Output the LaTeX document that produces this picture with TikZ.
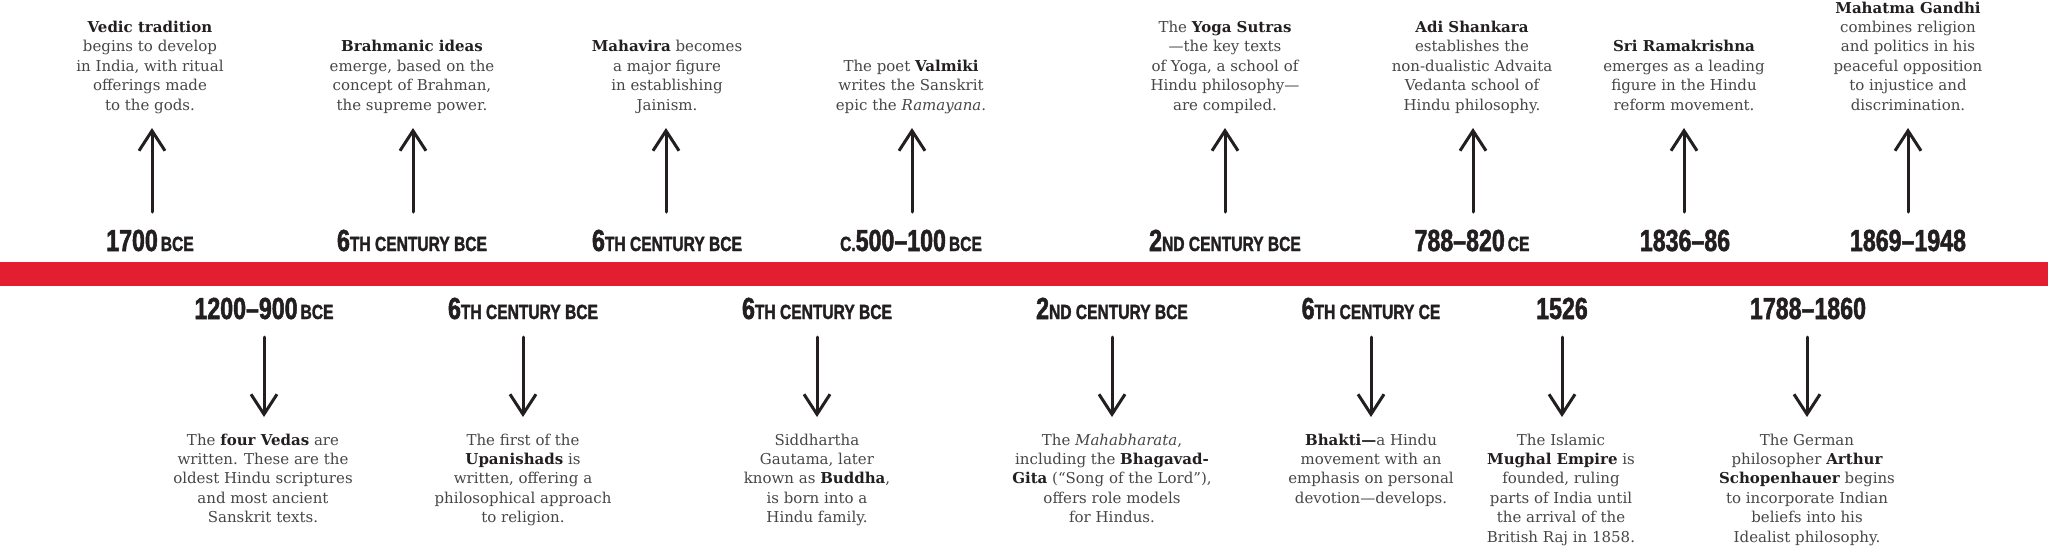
\documentclass[tikz,border=0pt]{standalone}
\usepackage{fontspec}
\setmainfont{DejaVu Serif}
\newfontfamily\datefont[FakeStretch=0.76,FakeBold=1.6]{Liberation Sans}
\usetikzlibrary{arrows.meta}
\definecolor{band}{RGB}{227,30,48}
\definecolor{ink}{RGB}{35,31,32}
\definecolor{bodyc}{RGB}{70,70,70}
\newcommand\dbig[1]{{\fontsize{30.5}{30}\selectfont #1}}
\newcommand\dsm[1]{{\fontsize{20.5}{20}\selectfont #1}}
\newcommand\hb[1]{\textbf{\textcolor{ink}{#1}}}
\tikzset{
  datelbl/.style={font=\datefont\bfseries, text=ink, inner sep=0pt, anchor=base},
  desc/.style={font=\fontsize{15}{19.4}\selectfont, text=bodyc, align=center, inner sep=0pt, anchor=base},
  arr/.style={draw=ink, line width=3pt, line cap=round, -{Straight Barb[length=20pt,width=26pt]}},
}
\begin{document}
\begin{tikzpicture}[x=1pt,y=-1pt]
\useasboundingbox (0,0) rectangle (2048,547);
\fill[band] (0,262) rectangle (2048,286);

% ---------- top row ----------
\foreach \n/\x in {1/152,2/413,3/666,4/912,5/1225,6/1473,7/1684,8/1908}{
  \coordinate (ta\n s) at (\x,212);
  \coordinate (ta\n e) at (\x,128);
}
\node[datelbl] (td1) at (150,251) {\dbig{1700}\hspace{3pt}\dsm{BCE}};
\node[datelbl] (td2) at (412,251) {\dbig{6}\dsm{TH CENTURY BCE}};
\node[datelbl] (td3) at (667,251) {\dbig{6}\dsm{TH CENTURY BCE}};
\node[datelbl] (td4) at (911,251) {\dsm{C.}\dbig{500–100}\hspace{3pt}\dsm{BCE}};
\node[datelbl] (td5) at (1225,251) {\dbig{2}\dsm{ND CENTURY BCE}};
\node[datelbl] (td6) at (1472,251) {\dbig{788–820}\hspace{3pt}\dsm{CE}};
\node[datelbl] (td7) at (1685,251) {\dbig{1836–86}};
\node[datelbl] (td8) at (1908,251) {\dbig{1869–1948}};

\node[desc] (t1) at (150,110) {\hb{Vedic tradition}\\begins to develop\\in India, with ritual\\offerings made\\to the gods.};
\node[desc] (t2) at (412,110) {\hb{Brahmanic ideas}\\emerge, based on the\\concept of Brahman,\\the supreme power.};
\node[desc] (t3) at (667,110) {\hb{Mahavira} becomes\\a major figure\\in establishing\\Jainism.};
\node[desc] (t4) at (911,110) {The poet \hb{Valmiki}\\writes the Sanskrit\\epic the \textit{Ramayana}.};
\node[desc] (t5) at (1225,110) {The \hb{Yoga Sutras}\\—the key texts\\of Yoga, a school of\\Hindu philosophy—\\are compiled.};
\node[desc] (t6) at (1472,110) {\hb{Adi Shankara}\\establishes the\\non-dualistic Advaita\\Vedanta school of\\Hindu philosophy.};
\node[desc] (t7) at (1684,110) {\hb{Sri Ramakrishna}\\emerges as a leading\\figure in the Hindu\\reform movement.};
\node[desc] (t8) at (1908,110) {\hb{Mahatma Gandhi}\\combines religion\\and politics in his\\peaceful opposition\\to injustice and\\discrimination.};

\foreach \n in {1,...,8}{ \draw[arr] (ta\n s) -- (ta\n e); }

% ---------- bottom row ----------
\foreach \n/\x in {1/264,2/523,3/817,4/1112,5/1371,6/1562,7/1807}{
  \coordinate (ba\n s) at (\x,337);
  \coordinate (ba\n e) at (\x,417);
}
\node[datelbl] (bd1) at (264,319) {\dbig{1200–900}\hspace{3pt}\dsm{BCE}};
\node[datelbl] (bd2) at (523,319) {\dbig{6}\dsm{TH CENTURY BCE}};
\node[datelbl] (bd3) at (817,319) {\dbig{6}\dsm{TH CENTURY BCE}};
\node[datelbl] (bd4) at (1112,319) {\dbig{2}\dsm{ND CENTURY BCE}};
\node[datelbl] (bd5) at (1371,319) {\dbig{6}\dsm{TH CENTURY CE}};
\node[datelbl] (bd6) at (1562,319) {\dbig{1526}};
\node[datelbl] (bd7) at (1808,319) {\dbig{1788–1860}};

\node[desc] (b1) at (263,522.6) {The \hb{four Vedas} are\\written. These are the\\oldest Hindu scriptures\\and most ancient\\Sanskrit texts.};
\node[desc] (b2) at (523,522.6) {The first of the\\\hb{Upanishads} is\\written, offering a\\philosophical approach\\to religion.};
\node[desc] (b3) at (817,522.6) {Siddhartha\\Gautama, later\\known as \hb{Buddha},\\is born into a\\Hindu family.};
\node[desc] (b4) at (1112,522.6) {The \textit{Mahabharata},\\including the \hb{Bhagavad-}\\\hb{Gita} (“Song of the Lord”),\\offers role models\\for Hindus.};
\node[desc] (b5) at (1371,503.2) {\hb{Bhakti—}a Hindu\\movement with an\\emphasis on personal\\devotion—develops.};
\node[desc] (b6) at (1561,542) {The Islamic\\\hb{Mughal Empire} is\\founded, ruling\\parts of India until\\the arrival of the\\British Raj in 1858.};
\node[desc] (b7) at (1807,542) {The German\\philosopher \hb{Arthur}\\\hb{Schopenhauer} begins\\to incorporate Indian\\beliefs into his\\Idealist philosophy.};

\foreach \n in {1,...,7}{ \draw[arr] (ba\n s) -- (ba\n e); }
\end{tikzpicture}
\end{document}
